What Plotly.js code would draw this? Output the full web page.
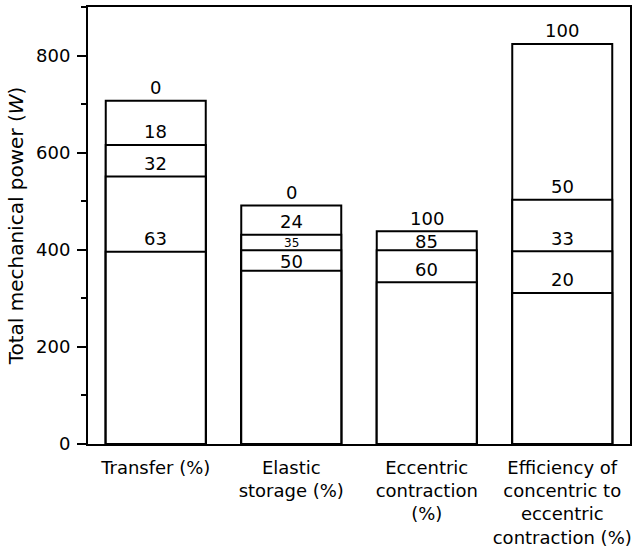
<!DOCTYPE html>
<html>
<head>
<meta charset="utf-8">
<script src="https://cdn.plot.ly/plotly-3.0.1.min.js"></script>
<style>html,body{margin:0;padding:0;background:#fff;}#chart{width:633px;height:548px;}</style>
</head>
<body>
<div id="chart"></div>
<script>
// ---- data ----
const categories = ["Transfer (%)", "Elastic storage (%)", "Eccentric contraction (%)", "Efficiency of concentric to eccentric contraction (%)"];
const tickLabels = ["Transfer (%)", "Elastic<br>storage (%)", "Eccentric<br>contraction<br>(%)", "Efficiency of<br>concentric to<br>eccentric<br>contraction (%)"];
// power levels (W) for each bar, from top to bottom
const transferPower   = [707, 616, 551, 396];
const elasticPower    = [491, 431, 399, 357];
const eccentricPower  = [438, 399, 333];
const efficiencyPower = [824, 503, 397, 311];
// percentage labels at each level
const transferLabels   = ["0", "18", "32", "63"];
const elasticLabels    = ["0", "24", "35", "50"];
const eccentricLabels  = ["100", "85", "60"];
const efficiencyLabels = ["100", "50", "33", "20"];
const yTicks = [0, 200, 400, 600, 800];

// ---- build ----
const powers = [transferPower, elasticPower, eccentricPower, efficiencyPower];
const labels = [transferLabels, elasticLabels, eccentricLabels, efficiencyLabels];
const FONT = "DejaVu Sans, Verdana, sans-serif";
const nLevels = Math.max(...powers.map(p => p.length));
const traces = [];
for (let k = 0; k < nLevels; k++) {
  traces.push({
    type: "bar",
    x: categories,
    y: powers.map(p => (k < p.length ? p[k] : null)),
    marker: {color: "#ffffff", line: {color: "#000", width: 2}},
    hoverinfo: "skip",
    showlegend: false
  });
}
const pxPerUnit = 437 / 900;
const annotations = [];
powers.forEach((p, i) => {
  p.forEach((v, k) => {
    const gapPx = k === 0 ? 30 : (p[k - 1] - v) * pxPerUnit;
    const small = gapPx < 17;
    annotations.push({
      x: categories[i], y: v, xref: "x", yref: "y",
      text: labels[i][k], showarrow: false,
      yanchor: "middle", yshift: Math.min(13, gapPx / 2 - 1),
      font: {family: FONT, size: small ? 12 : 18, color: "#000"}
    });
  });
});

const layout = {
  width: 633, height: 548,
  margin: {l: 88, r: 3, t: 7, b: 104},
  paper_bgcolor: "#fff", plot_bgcolor: "#fff",
  barmode: "overlay", bargap: 0.262,
  font: {family: FONT, size: 18, color: "#000"},
  xaxis: {
    type: "category", categoryarray: categories,
    tickmode: "array", tickvals: categories, ticktext: tickLabels,
    showline: true, linecolor: "#000", linewidth: 2, mirror: true,
    ticks: "", showgrid: false, zeroline: false,
    ticklabelstandoff: 6,
    tickfont: {family: FONT, size: 18, color: "#000"}
  },
  yaxis: {
    range: [0, 900], tickmode: "array", tickvals: yTicks,
    ticks: "outside", ticklen: 9, tickwidth: 2, tickcolor: "#000",
    minor: {tickmode: "linear", tick0: 0, dtick: 100, ticks: "outside", ticklen: 5, tickwidth: 2, tickcolor: "#000"},
    showline: true, linecolor: "#000", linewidth: 2, mirror: true,
    showgrid: false, zeroline: false,
    tickfont: {family: FONT, size: 18, color: "#000"},
    ticklabelstandoff: 3,
    title: {text: "Total mechanical power (<i>W</i>)", font: {family: FONT, size: 20, color: "#000"}, standoff: 7}
  },
  annotations: annotations
};
Plotly.newPlot("chart", traces, layout, {displayModeBar: false, staticPlot: true});
</script>
</body>
</html>
